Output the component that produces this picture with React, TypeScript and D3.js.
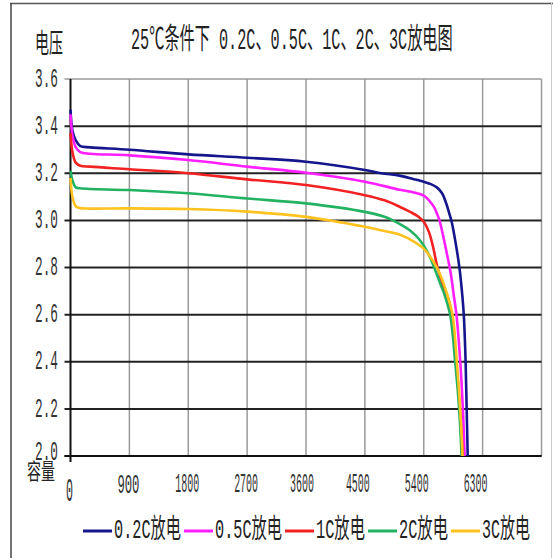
import React, { useLayoutEffect, useRef, useState } from 'react';
import * as d3 from 'd3';

const W = 553;
const H = 558;

const yTicks = [2.0, 2.2, 2.4, 2.6, 2.8, 3.0, 3.2, 3.4, 3.6];
const yLabels = ['2.0', '2.2', '2.4', '2.6', '2.8', '3.0', '3.2', '3.4', '3.6'];
const xGrid = [0, 900, 1800, 2700, 3600, 4500, 5400, 6300, 7200];
const xLabels = [900, 1800, 2700, 3600, 4500, 5400, 6300];

const seriesNames = ['0.2C放电', '0.5C放电', '1C放电', '2C放电', '3C放电'];
const seriesColors = ['#16168c', '#ff1eff', '#f22222', '#22b262', '#ffc21e'];

const d02: [number, number][] = [
  [0, 3.47], [30, 3.38], [80, 3.34], [150, 3.315], [300, 3.31], [900, 3.3], [1800, 3.28],
  [2700, 3.266], [3600, 3.249], [4500, 3.214], [4750, 3.2], [5030, 3.19], [5250, 3.175],
  [5400, 3.164], [5500, 3.155], [5600, 3.14], [5680, 3.115], [5740, 3.075], [5790, 3.03],
  [5830, 2.99], [5890, 2.9], [5945, 2.8], [5990, 2.68], [6012, 2.6], [6040, 2.4],
  [6056, 2.2], [6072, 2.0],
];
const d05: [number, number][] = [
  [0, 3.45], [30, 3.36], [80, 3.31], [150, 3.29], [300, 3.283], [900, 3.276], [1800, 3.256],
  [2700, 3.228], [3600, 3.202], [4500, 3.164], [5030, 3.13], [5250, 3.118], [5400, 3.105],
  [5480, 3.085], [5560, 3.055], [5600, 3.03], [5640, 3.0], [5700, 2.93], [5760, 2.85],
  [5810, 2.78], [5860, 2.68], [5900, 2.6], [5958, 2.4], [5998, 2.2], [6025, 2.0],
];
const d1: [number, number][] = [
  [0, 3.37], [30, 3.29], [80, 3.245], [150, 3.232], [300, 3.228], [900, 3.217], [1800, 3.2],
  [2700, 3.174], [3600, 3.15], [4500, 3.107], [4800, 3.085], [5030, 3.058], [5200, 3.035],
  [5320, 3.015], [5410, 2.99], [5480, 2.95], [5540, 2.89], [5610, 2.8], [5700, 2.72],
  [5773, 2.67], [5825, 2.6], [5895, 2.4], [5952, 2.2], [5998, 2.0],
];
const d2: [number, number][] = [
  [0, 3.21], [30, 3.17], [80, 3.14], [150, 3.136], [300, 3.133], [900, 3.129], [1800, 3.115],
  [2700, 3.093], [3600, 3.072], [4500, 3.036], [4800, 3.015], [5030, 2.985], [5200, 2.955],
  [5330, 2.92], [5450, 2.87], [5560, 2.8], [5640, 2.74], [5711, 2.69], [5803, 2.6],
  [5880, 2.4], [5941, 2.2], [5978, 2.0],
];
const d3c: [number, number][] = [
  [0, 3.18], [30, 3.1], [80, 3.06], [150, 3.052], [300, 3.05], [900, 3.051], [1800, 3.048],
  [2700, 3.037], [3600, 3.015], [4500, 2.973], [4800, 2.955], [5030, 2.94], [5250, 2.91],
  [5400, 2.88], [5500, 2.845], [5600, 2.8], [5680, 2.75], [5753, 2.69], [5840, 2.6],
  [5906, 2.4], [5957, 2.2], [5993, 2.0],
];
const seriesData = [d02, d05, d1, d2, d3c];

const legendTextWidths = [67, 67, 49, 49, 48];

type CTProps = {
  x: number;
  y: number;
  w: number;
  fontSize: number;
  fill?: string;
  family: string;
  children: string;
};

function CText({ x, y, w, fontSize, fill = '#222', family, children }: CTProps) {
  const ref = useRef<SVGTextElement>(null);
  const [s, setS] = useState(1);
  useLayoutEffect(() => {
    if (ref.current) {
      const n = ref.current.getComputedTextLength();
      if (n > 0) setS(w / n);
    }
  }, [w, children, fontSize, family]);
  return (
    <text
      ref={ref}
      transform={`translate(${x},${y}) scale(${s},1)`}
      fontFamily={family}
      fontSize={fontSize}
      fill={fill}
      dominantBaseline="central"
    >
      {children}
    </text>
  );
}

export default function App() {
  const left = 70.5, right = 541.5, top = 79, bottom = 456;
  const x = d3.scaleLinear().domain([0, 7200]).range([left, right]);
  const y = d3.scaleLinear().domain([2.0, 3.6]).range([bottom, top]);
  const line = d3
    .line<[number, number]>()
    .x((d) => x(d[0]))
    .y((d) => y(d[1]))
    .curve(d3.curveCatmullRom.alpha(0.5));

  const mono = '"Liberation Mono", "Noto Sans CJK SC", monospace';
  const textColor = '#333';

  // legend layout
  const legendY = 531;
  let cursor = 83;
  const legendItems = seriesNames.map((name, i) => {
    const lx1 = cursor;
    const lx2 = cursor + 29;
    const tx = lx2 + 2;
    cursor = tx + legendTextWidths[i] + 3;
    return { name, color: seriesColors[i], lx1, lx2, tx, tw: legendTextWidths[i] };
  });

  return (
    <svg width={W} height={H} style={{ position: 'absolute', left: 0, top: 0, background: '#fff' }}>
      <rect x={0} y={0} width={W} height={H} fill="#fff" />
      {/* outer frame */}
      <line x1={10} y1={3.5} x2={W} y2={3.5} stroke="#555" strokeWidth={1.5} />
      <line x1={11} y1={3} x2={11} y2={H} stroke="#444" strokeWidth={1.5} />
      <line x1={551.5} y1={3} x2={551.5} y2={H} stroke="#ccc" strokeWidth={1} />

      {/* vertical grid */}
      {xGrid.slice(1).map((v) => (
        <line key={'vx' + v} x1={x(v)} x2={x(v)} y1={top} y2={bottom} stroke="#9a9a9a" strokeWidth={1.5} />
      ))}
      {/* horizontal grid */}
      {yTicks.map((v) => (
        <line
          key={'hy' + v}
          x1={left - 6}
          x2={right}
          y1={y(v)}
          y2={y(v)}
          stroke={v === 3.6 ? '#999' : '#222'}
          strokeWidth={v === 3.6 ? 1.5 : 2}
        />
      ))}
      {/* axes */}
      <line x1={left} x2={left} y1={top} y2={bottom + 6} stroke="#111" strokeWidth={2} />
      <line x1={left - 6} x2={right} y1={bottom} y2={bottom} stroke="#111" strokeWidth={2} />

      {/* curves */}
      {seriesData.map((d, i) => (
        <path key={'s' + i} d={line(d) || ''} fill="none" stroke={seriesColors[i]} strokeWidth={2.6} strokeLinejoin="round" />
      ))}

      {/* y labels */}
      {yTicks.map((v, i) => (
        <CText key={'yl' + v} x={35} y={y(v) - (v === 2.0 ? 4 : 0)} w={23} fontSize={27} fill={textColor} family={mono}>
          {yLabels[i]}
        </CText>
      ))}

      {/* x labels */}
      <CText x={66} y={492} w={7} fontSize={34} fill={textColor} family={mono}>
        0
      </CText>
      {xLabels.map((v) => {
        const s = String(v);
        const tw = s.length === 3 ? 22 : 24;
        return (
          <CText
            key={'xl' + v}
            x={x(v) - tw / 2 - (v >= 4500 ? 7 : v >= 3600 ? 4 : 1)}
            y={485}
            w={tw}
            fontSize={28}
            fill={textColor}
            family={mono}
          >
            {s}
          </CText>
        );
      })}

      {/* title */}
      <CText x={131} y={41} w={322} fontSize={29} family={mono}>
        25℃条件下 0.2C、0.5C、1C、2C、3C放电图
      </CText>
      {/* axis titles */}
      <CText x={35} y={45} w={28} fontSize={27} family={mono}>
        电压
      </CText>
      <CText x={27} y={474} w={28} fontSize={22} family={mono}>
        容量
      </CText>

      {/* legend */}
      {legendItems.map((it) => (
        <g key={it.name}>
          <line x1={it.lx1} x2={it.lx2} y1={legendY} y2={legendY} stroke={it.color} strokeWidth={3} />
          <CText x={it.tx} y={legendY} w={it.tw} fontSize={27} family={mono}>
            {it.name}
          </CText>
        </g>
      ))}
    </svg>
  );
}
